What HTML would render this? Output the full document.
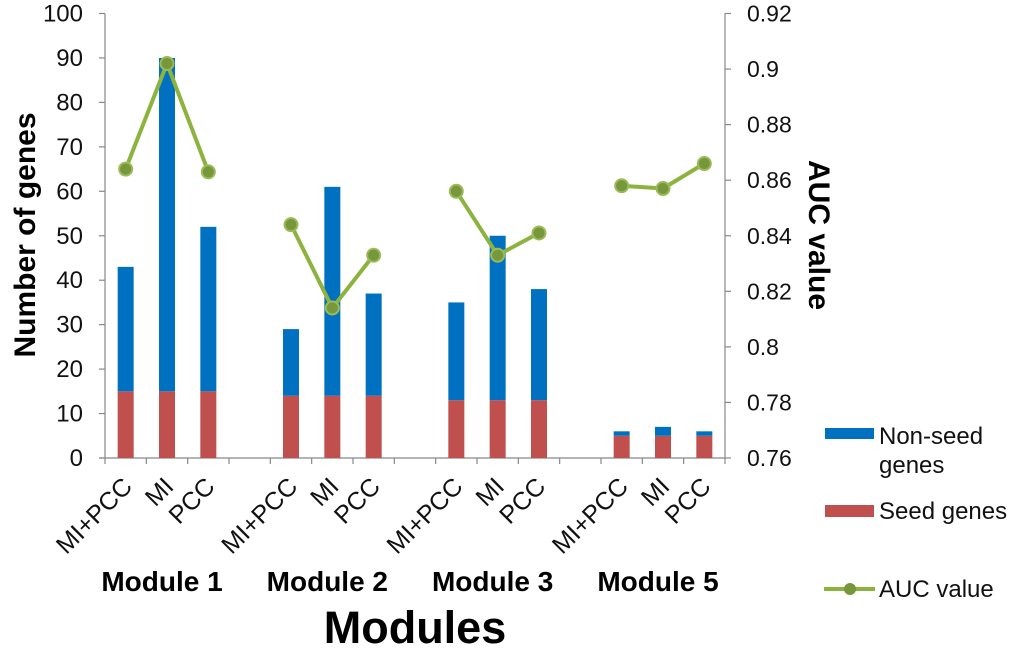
<!DOCTYPE html>
<html><head><meta charset="utf-8"><style>
body{margin:0;background:#fff;}
svg{display:block;font-family:"Liberation Sans",Arial,sans-serif;}
</style></head><body>
<svg id="chart" width="1020" height="649" viewBox="0 0 1020 649" xmlns="http://www.w3.org/2000/svg"></svg>
<script>
const methods = ["MI+PCC","MI","PCC","MI+PCC","MI","PCC","MI+PCC","MI","PCC","MI+PCC","MI","PCC"];
const moduleNames = ["Module 1","Module 2","Module 3","Module 5"];
const seedGenes = [15,15,15,14,14,14,13,13,13,5,5,5];
const nonSeedGenes = [28,75,37,15,47,23,22,37,25,1,2,1];
const aucValues = [0.864,0.902,0.863,0.844,0.814,0.833,0.856,0.833,0.841,0.858,0.857,0.866];
const leftTicks = [0,10,20,30,40,50,60,70,80,90,100];
const rightTicks = [0.76,0.78,0.8,0.82,0.84,0.86,0.88,0.9,0.92];

const NS="http://www.w3.org/2000/svg";
const svg=document.getElementById('chart');
const X0=105, X1=725, Y0=458, Y1=13.5, SLOTS=15;
const slotW=(X1-X0)/SLOTS;
function slotOf(i){return Math.floor(i/3)*4 + (i%3);}
function xc(i){return X0+(slotOf(i)+0.5)*slotW;}
function yL(v){return Y0-(v/100)*(Y0-Y1);}
function yR(v){return Y0-((v-0.76)/0.16)*(Y0-Y1);}
function mk(tag,attrs,parent){const e=document.createElementNS(NS,tag);for(const k in attrs)e.setAttribute(k,attrs[k]);(parent||svg).appendChild(e);return e;}

const axL=mk('line',{x1:X0,y1:Y1,x2:X0,y2:Y0,stroke:'#888','stroke-width':1.2});


const axR=mk('line',{x1:X1,y1:Y1,x2:X1,y2:Y0,stroke:'#888','stroke-width':1.2});


const axX=mk('line',{x1:X0-6,y1:Y0,x2:X1,y2:Y0,stroke:'#888','stroke-width':1.2});


for(let s=0;s<=SLOTS;s++){
  const t=mk('line',{x1:X0+s*slotW,y1:Y0,x2:X0+s*slotW,y2:Y0+6,stroke:'#888','stroke-width':1.2});
  
  
}
leftTicks.forEach(v=>{
  const t=mk('line',{x1:X0-6,y1:yL(v),x2:X0,y2:yL(v),stroke:'#888','stroke-width':1.2});
  
  
  const l=mk('text',{x:83,y:yL(v)+8,'text-anchor':'end','font-size':24,fill:'#111'});
  l.textContent=v;
  
  
});
rightTicks.forEach(v=>{
  const t=mk('line',{x1:X1,y1:yR(v),x2:X1+6,y2:yR(v),stroke:'#888','stroke-width':1.2});
  
  
  const l=mk('text',{x:747,y:yR(v)+8,'font-size':23,fill:'#111'});
  l.textContent=String(v);
  
  
});

const BW=16;
methods.forEach((m,i)=>{
  const cx=xc(i);
  const b1=mk('rect',{x:cx-BW/2,y:yL(seedGenes[i]),width:BW,height:Y0-yL(seedGenes[i]),fill:'#c0504d'});
  
  
  const top=seedGenes[i]+nonSeedGenes[i];
  const b2=mk('rect',{x:cx-BW/2,y:yL(top),width:BW,height:yL(seedGenes[i])-yL(top),fill:'#0070c0'});
  
  
  const lx=cx+8, ly=Y0+30;
  const l=mk('text',{x:lx,y:ly,'text-anchor':'end','font-size':25,fill:'#111',transform:`rotate(-45 ${lx} ${ly})`});
  l.textContent=m;
  
  
});

for(let g=0;g<4;g++){
  const pts=[0,1,2].map(k=>xc(g*3+k)+','+yR(aucValues[g*3+k])).join(' ');
  const pl=mk('polyline',{points:pts,fill:'none',stroke:'#8db33f','stroke-width':4,'stroke-linejoin':'round'});
  
  
}
aucValues.forEach((v,i)=>{
  const c=mk('circle',{cx:xc(i),cy:yR(v),r:6.5,fill:'#76973a',stroke:'#9bbb59','stroke-width':2});
  
  
});

moduleNames.forEach((n,g)=>{
  const cx=xc(g*3+1);
  const t=mk('text',{x:cx-5,y:591,'text-anchor':'middle','font-size':28,'font-weight':'bold',fill:'#000'});
  t.textContent=n;
  
  
});
</script>
<svg style="position:absolute;left:0;top:0" width="1020" height="649" xmlns="http://www.w3.org/2000/svg">
<text x="415" y="643" text-anchor="middle" font-size="45" font-weight="bold" font-family="Liberation Sans, sans-serif">Modules</text>
<text transform="translate(35 235) rotate(-90)" text-anchor="middle" font-size="30" font-weight="bold" font-family="Liberation Sans, sans-serif">Number of genes</text>
<text transform="translate(809 235) rotate(90)" text-anchor="middle" font-size="30" font-weight="bold" font-family="Liberation Sans, sans-serif">AUC value</text>
<g font-family="Liberation Sans, sans-serif" font-size="24" fill="#111">
<rect x="825" y="428" width="49" height="11" fill="#0070c0"/>
<text x="879" y="444">Non-seed</text>
<text x="879" y="473">genes</text>
<rect x="825" y="505" width="49" height="12" fill="#c0504d"/>
<text x="879" y="519">Seed genes</text>
<line x1="824" y1="589" x2="875" y2="589" stroke="#8db33f" stroke-width="4"/>
<circle cx="850" cy="589" r="6" fill="#76973a"/>
<text x="879" y="597">AUC value</text>
</g>
</svg>
</body></html>
